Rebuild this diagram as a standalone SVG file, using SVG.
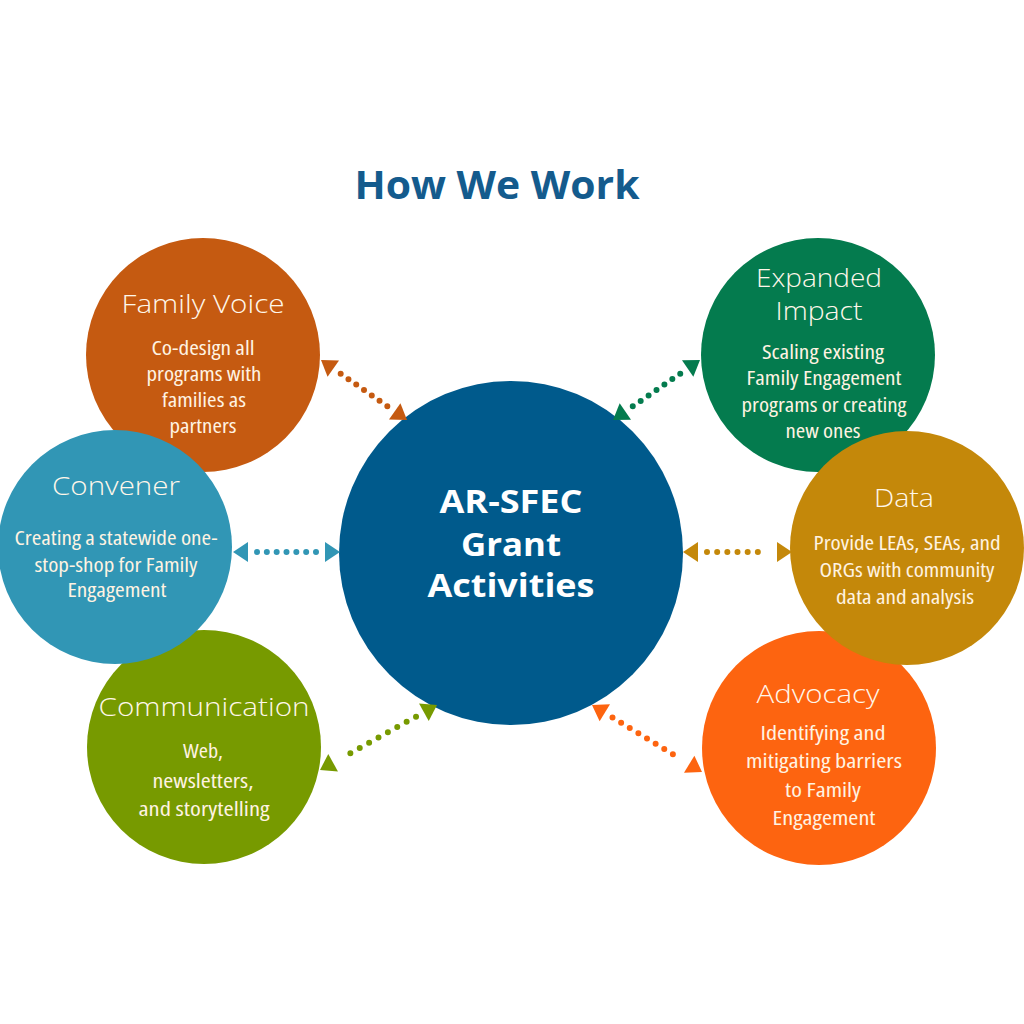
<svg xmlns="http://www.w3.org/2000/svg" width="1024" height="1024" viewBox="0 0 1024 1024">
<style>
.ttl{font-family:"Open Sans","Liberation Sans",sans-serif;font-weight:300;font-size:26px;fill:#FFF7EA;text-anchor:middle}
.body{font-family:"Open Sans","Liberation Sans",sans-serif;font-stretch:condensed;font-weight:400;font-size:20px;fill:#FFF3E2;text-anchor:middle}
.ctr{font-family:"Open Sans","Liberation Sans",sans-serif;font-weight:700;font-size:33px;fill:#FFFFFF;text-anchor:middle}
.head{font-family:"Open Sans","Liberation Sans",sans-serif;font-weight:700;font-size:40px;fill:#145B8D;text-anchor:middle}
.dots{fill:none;stroke-width:6;stroke-linecap:round;stroke-dasharray:0 1}
</style>
<defs>
<marker id="mFV" markerUnits="userSpaceOnUse" orient="auto-start-reverse" markerWidth="26" markerHeight="22" viewBox="0 -11 26 22" refX="0" refY="0"><path d="M9,-10 L24,0 L9,10 Z" fill="#C55A11"/></marker>
<marker id="mEX" markerUnits="userSpaceOnUse" orient="auto-start-reverse" markerWidth="26" markerHeight="22" viewBox="0 -11 26 22" refX="0" refY="0"><path d="M9,-10 L24,0 L9,10 Z" fill="#047B4E"/></marker>
<marker id="mCV" markerUnits="userSpaceOnUse" orient="auto-start-reverse" markerWidth="26" markerHeight="22" viewBox="0 -11 26 22" refX="0" refY="0"><path d="M9,-10 L24,0 L9,10 Z" fill="#3196B5"/></marker>
<marker id="mDA" markerUnits="userSpaceOnUse" orient="auto-start-reverse" markerWidth="26" markerHeight="22" viewBox="0 -11 26 22" refX="0" refY="0"><path d="M9,-10 L24,0 L9,10 Z" fill="#C4880A"/></marker>
<marker id="mCM" markerUnits="userSpaceOnUse" orient="auto-start-reverse" markerWidth="26" markerHeight="22" viewBox="0 -11 26 22" refX="0" refY="0"><path d="M9,-10 L24,0 L9,10 Z" fill="#779A00"/></marker>
<marker id="mAD" markerUnits="userSpaceOnUse" orient="auto-start-reverse" markerWidth="26" markerHeight="22" viewBox="0 -11 26 22" refX="0" refY="0"><path d="M9,-10 L24,0 L9,10 Z" fill="#FD6410"/></marker>
</defs>
<rect width="1024" height="1024" fill="#FFFFFF"/>
<text class="head" x="497" y="199" textLength="285" lengthAdjust="spacingAndGlyphs">How We Work</text>

<g id="family-voice">
<circle cx="203" cy="355" r="117" fill="#C55A11"/>
<text class="ttl" x="203" y="313" textLength="163" lengthAdjust="spacingAndGlyphs">Family Voice</text>
<text class="body" x="203" y="355" textLength="103" lengthAdjust="spacingAndGlyphs">Co-design all</text>
<text class="body" x="204" y="381" textLength="115" lengthAdjust="spacingAndGlyphs">programs with</text>
<text class="body" x="204" y="407" textLength="84" lengthAdjust="spacingAndGlyphs">families as</text>
<text class="body" x="203" y="433" textLength="67" lengthAdjust="spacingAndGlyphs">partners</text>
</g>

<g id="communication">
<circle cx="204" cy="747" r="117" fill="#779A00"/>
<text class="ttl" x="204" y="716" textLength="211" lengthAdjust="spacingAndGlyphs">Communication</text>
<text class="body" x="203" y="758" textLength="40" lengthAdjust="spacingAndGlyphs">Web,</text>
<text class="body" x="203" y="788" textLength="101" lengthAdjust="spacingAndGlyphs">newsletters,</text>
<text class="body" x="204" y="816" textLength="131" lengthAdjust="spacingAndGlyphs">and storytelling</text>
</g>

<g id="convener">
<circle cx="115" cy="547" r="117" fill="#3196B5"/>
<text class="ttl" x="116" y="495" textLength="128" lengthAdjust="spacingAndGlyphs">Convener</text>
<text class="body" x="116" y="545" textLength="203" lengthAdjust="spacingAndGlyphs">Creating a statewide one-</text>
<text class="body" x="116" y="572" textLength="163" lengthAdjust="spacingAndGlyphs">stop-shop for Family</text>
<text class="body" x="117" y="597" textLength="99" lengthAdjust="spacingAndGlyphs">Engagement</text>
</g>

<g id="expanded-impact">
<circle cx="818" cy="355" r="117" fill="#047B4E"/>
<text class="ttl" x="819" y="287" textLength="126" lengthAdjust="spacingAndGlyphs">Expanded</text>
<text class="ttl" x="819" y="320" textLength="87" lengthAdjust="spacingAndGlyphs">Impact</text>
<text class="body" x="823" y="359" textLength="122" lengthAdjust="spacingAndGlyphs">Scaling existing</text>
<text class="body" x="824" y="385" textLength="155" lengthAdjust="spacingAndGlyphs">Family Engagement</text>
<text class="body" x="824" y="412" textLength="165" lengthAdjust="spacingAndGlyphs">programs or creating</text>
<text class="body" x="823" y="438" textLength="75" lengthAdjust="spacingAndGlyphs">new ones</text>
</g>

<g id="advocacy">
<circle cx="819" cy="748" r="117" fill="#FD6410"/>
<text class="ttl" x="818" y="703" textLength="123" lengthAdjust="spacingAndGlyphs">Advocacy</text>
<text class="body" x="823" y="740" textLength="125" lengthAdjust="spacingAndGlyphs">Identifying and</text>
<text class="body" x="824" y="768" textLength="156" lengthAdjust="spacingAndGlyphs">mitigating barriers</text>
<text class="body" x="823" y="797" textLength="76" lengthAdjust="spacingAndGlyphs">to Family</text>
<text class="body" x="824" y="825" textLength="103" lengthAdjust="spacingAndGlyphs">Engagement</text>
</g>

<g id="data">
<circle cx="907" cy="548" r="117" fill="#C4880A"/>
<text class="ttl" x="904" y="507" textLength="60" lengthAdjust="spacingAndGlyphs">Data</text>
<text class="body" x="907" y="550" textLength="187" lengthAdjust="spacingAndGlyphs">Provide LEAs, SEAs, and</text>
<text class="body" x="907" y="577" textLength="175" lengthAdjust="spacingAndGlyphs">ORGs with community</text>
<text class="body" x="905" y="604" textLength="138" lengthAdjust="spacingAndGlyphs">data and analysis</text>
</g>

<g id="center">
<circle cx="511" cy="553" r="172" fill="#005A8C"/>
<text class="ctr" x="511" y="513" textLength="143" lengthAdjust="spacingAndGlyphs">AR-SFEC</text>
<text class="ctr" x="511" y="556" textLength="100" lengthAdjust="spacingAndGlyphs">Grant</text>
<text class="ctr" x="511" y="597" textLength="167" lengthAdjust="spacingAndGlyphs">Activities</text>
</g>

<g id="connectors">
<path class="dots" stroke="#C55A11" pathLength="6" d="M340.68,373.73 L387.32,406.27" marker-start="url(#mFV)" marker-end="url(#mFV)"/>
<path class="dots" stroke="#047B4E" pathLength="6" d="M680.24,373.63 L632.76,406.37" marker-start="url(#mEX)" marker-end="url(#mEX)"/>
<path class="dots" stroke="#3196B5" pathLength="6" d="M257,552 L316,552" marker-start="url(#mCV)" marker-end="url(#mCV)"/>
<path class="dots" stroke="#C4880A" pathLength="6" d="M707,552 L768,552" marker-start="url(#mDA)" marker-end="url(#mDA)"/>
<path class="dots" stroke="#779A00" pathLength="8" d="M416.02,716.66 L340.98,758.34" marker-start="url(#mCM)" marker-end="url(#mCM)"/>
<path class="dots" stroke="#FD6410" pathLength="8" d="M612.5,717.48 L681.5,759.52" marker-start="url(#mAD)" marker-end="url(#mAD)"/>
</g>
</svg>
